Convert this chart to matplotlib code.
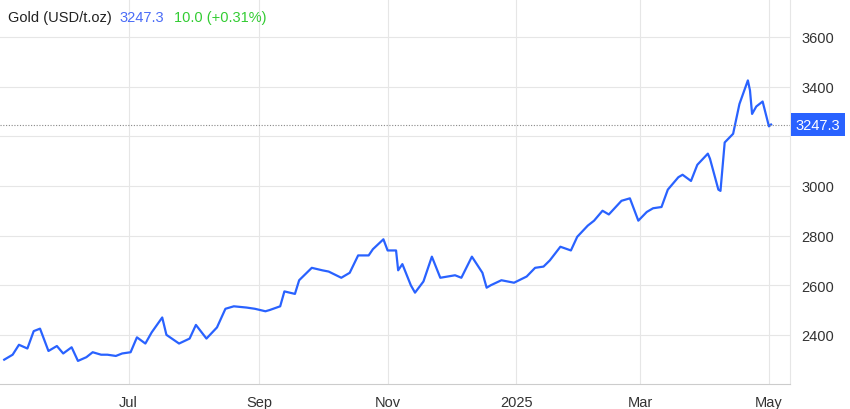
import matplotlib
matplotlib.use("Agg")
import matplotlib.pyplot as plt
import pandas as pd

plt.rcParams['font.family'] = ['Liberation Sans', 'DejaVu Sans']

dates = ["2024-05-03","2024-05-07","2024-05-10","2024-05-14","2024-05-17","2024-05-20","2024-05-22","2024-05-24","2024-05-28","2024-05-31",
 "2024-06-04","2024-06-07","2024-06-11","2024-06-14","2024-06-18","2024-06-21","2024-06-25","2024-06-28","2024-07-02","2024-07-05",
 "2024-07-09","2024-07-12","2024-07-17","2024-07-19","2024-07-25","2024-07-30","2024-08-02","2024-08-07","2024-08-12","2024-08-16",
 "2024-08-20","2024-08-26","2024-08-30","2024-09-04","2024-09-06","2024-09-11","2024-09-13","2024-09-18","2024-09-20","2024-09-26",
 "2024-10-01","2024-10-04","2024-10-10","2024-10-14","2024-10-18","2024-10-23","2024-10-25","2024-10-30","2024-11-01","2024-11-05",
 "2024-11-06","2024-11-08","2024-11-12","2024-11-14","2024-11-18","2024-11-22","2024-11-26","2024-12-03","2024-12-06","2024-12-11",
 "2024-12-16","2024-12-18","2024-12-20","2024-12-25","2024-12-31","2025-01-06","2025-01-10","2025-01-14","2025-01-17","2025-01-22",
 "2025-01-27","2025-01-30","2025-02-04","2025-02-07","2025-02-11","2025-02-14","2025-02-20","2025-02-24","2025-02-28","2025-03-04",
 "2025-03-07","2025-03-11","2025-03-14","2025-03-19","2025-03-21","2025-03-25","2025-03-28","2025-04-02","2025-04-03","2025-04-07",
 "2025-04-08","2025-04-10","2025-04-14","2025-04-17","2025-04-21","2025-04-22","2025-04-23","2025-04-25","2025-04-28","2025-05-01","2025-05-02"]
prices = [2300,2320,2360,2345,2415,2425,2380,2335,2355,2325,
 2350,2295,2310,2330,2320,2320,2315,2325,2330,2390,
 2365,2410,2470,2400,2365,2385,2440,2385,2430,2505,
 2515,2510,2505,2495,2500,2515,2575,2565,2620,2670,
 2660,2655,2630,2650,2720,2720,2745,2785,2740,2740,
 2660,2685,2600,2570,2615,2715,2630,2640,2630,2715,
 2650,2590,2600,2620,2610,2635,2670,2675,2700,2755,
 2740,2795,2840,2860,2900,2885,2940,2950,2860,2895,
 2910,2915,2985,3035,3045,3020,3085,3130,3110,2985,
 2980,3175,3210,3330,3425,3385,3290,3320,3340,3240,3247.3]

last = prices[-1]
x = pd.to_datetime(dates)

fig = plt.figure(figsize=(8.5, 4.1), dpi=100)
ax = fig.add_axes([0, 25/410, 790/850, 385/410])
ax.plot(x, prices, color="#2962ff", lw=1.6)
ax.set_xlim(pd.Timestamp("2024-05-01"), pd.Timestamp("2025-05-11"))
ax.set_ylim(2202, 3753)
ax.axhline(last, color="#888888", lw=0.8, ls=(0, (1, 1.5)))
ax.yaxis.tick_right()
ax.set_yticks([2400, 2600, 2800, 3000, 3200, 3400, 3600])
ax.set_yticklabels(["2400","2600","2800","3000","","3400","3600"])
ticks = pd.to_datetime(["2024-07-01","2024-09-01","2024-11-01","2025-01-01","2025-03-01","2025-05-01"])
ax.set_xticks(ticks)
ax.set_xticklabels(["Jul","Sep","Nov","2025","Mar","May"])
ax.tick_params(length=0, labelsize=10.5, colors="#333333", pad=8)
ax.grid(True, color="#e6e6e6", lw=0.8)
for s in ["top","left"]:
    ax.spines[s].set_visible(False)
ax.spines["bottom"].set_color("#cccccc")
ax.spines["right"].set_color("#e6e6e6")
ax.annotate(f"{last}", xy=(1, last), xycoords=("axes fraction", "data"),
            xytext=(4, 0), textcoords="offset points", va="center", ha="left",
            color="white", fontsize=10.5,
            bbox=dict(boxstyle="square,pad=0.3", fc="#2962ff", ec="none"))
fig.text(8/850, 1-18/410, "Gold (USD/t.oz)", fontsize=10.5, color="#222222", va="center")
fig.text(119/850, 1-18/410, "3247.3", fontsize=10.5, color="#4a6cf7", va="center")
fig.text(174/850, 1-18/410, "10.0 (+0.31%)", fontsize=10.5, color="#33cc33", va="center")
fig.savefig("out.png", dpi=100)
